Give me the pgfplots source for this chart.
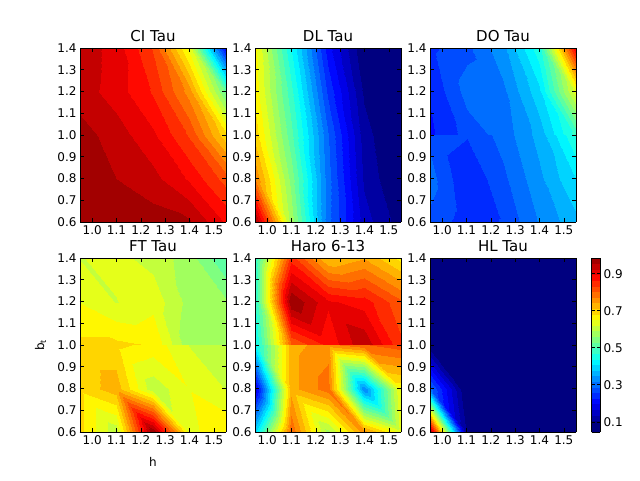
\documentclass[border=0pt]{standalone}
\usepackage{pgfplots}
\pgfplotsset{compat=1.18}
\usepackage{fontspec}
\setmainfont{DejaVu Sans}
\begin{document}
\begin{tikzpicture}
\pgfplotsset{
  panel/.style={
    view={0}{90},
    scale only axis, width=146pt, height=174pt,
    anchor=south west,
    xmin=0.95, xmax=1.55, ymin=0.6, ymax=1.4,
    xtick={1.0,1.1,1.2,1.3,1.4,1.5},
    xticklabels={1.0,1.1,1.2,1.3,1.4,1.5},
    ytick={0.6,0.7,0.8,0.9,1.0,1.1,1.2,1.3,1.4},
    yticklabels={0.6,0.7,0.8,0.9,1.0,1.1,1.2,1.3,1.4},
    ztick=\empty,
    tick align=inside,
    major tick length=4pt,
    every tick/.style={black, line width=0.6pt},
    axis line style={line width=0.8pt},
    ticklabel style={font=\fontsize{12}{12}\selectfont},
    title style={font=\fontsize{15}{15}\selectfont, yshift=-3pt},
    every axis x label/.style={at={(axis description cs:0.5,-0.17)}, anchor=center, font=\fontsize{12}{12}\selectfont},
    every axis y label/.style={at={(axis description cs:-0.27,0.5)}, rotate=90, anchor=center, font=\fontsize{12}{12}\selectfont},
    colormap/jet,
    point meta min=0.045, point meta max=0.985,
    axis on top=true,
  },
  cf/.style={contour filled={number=31}, mesh/rows=3, mesh/cols=5},
}
\fill[white] (0,0) rectangle (640pt,480pt);
\path[use as bounding box] (0,0) rectangle (640pt,480pt);

% CI Tau
\begin{axis}[panel, at={(80pt,258pt)}, title={CI Tau}]
\addplot3[cf] coordinates {
(0.95,0.6,1.00) (1.10,0.6,0.977) (1.25,0.6,0.97) (1.40,0.6,0.96) (1.55,0.6,0.89)
(0.95,0.8,0.972) (1.10,0.8,0.955) (1.25,0.8,0.935) (1.40,0.8,0.89) (1.55,0.8,0.82)
(0.95,1.0,0.968) (1.10,1.0,0.94) (1.25,1.0,0.90) (1.40,1.0,0.83) (1.55,1.0,0.69)
};
\addplot3[cf] coordinates {
(0.95,1.0,0.968) (1.10,1.0,0.94) (1.25,1.0,0.90) (1.40,1.0,0.83) (1.55,1.0,0.69)
(0.95,1.2,0.94) (1.10,1.2,0.91) (1.25,1.2,0.86) (1.40,1.2,0.76) (1.55,1.2,0.52)
(0.95,1.4,0.945) (1.10,1.4,0.91) (1.25,1.4,0.83) (1.40,1.4,0.64) (1.55,1.4,0.20)
};
\end{axis}

% DL Tau
\begin{axis}[panel, at={(255pt,258pt)}, title={DL Tau}]
\addplot3[cf] coordinates {
(0.95,0.6,0.97) (1.10,0.6,0.58) (1.25,0.6,0.30) (1.40,0.6,0.15) (1.55,0.6,0.09)
(0.95,0.8,0.77) (1.10,0.8,0.55) (1.25,0.8,0.30) (1.40,0.8,0.13) (1.55,0.8,0.07)
(0.95,1.0,0.70) (1.10,1.0,0.51) (1.25,1.0,0.29) (1.40,1.0,0.12) (1.55,1.0,0.06)
};
\addplot3[cf] coordinates {
(0.95,1.0,0.70) (1.10,1.0,0.51) (1.25,1.0,0.29) (1.40,1.0,0.12) (1.55,1.0,0.06)
(0.95,1.2,0.67) (1.10,1.2,0.48) (1.25,1.2,0.25) (1.40,1.2,0.10) (1.55,1.2,0.055)
(0.95,1.4,0.66) (1.10,1.4,0.44) (1.25,1.4,0.21) (1.40,1.4,0.075) (1.55,1.4,0.05)
};
\end{axis}

% DO Tau
\begin{axis}[panel, at={(430pt,258pt)}, title={DO Tau}]
\addplot3[cf] coordinates {
(0.95,0.6,0.28) (1.10,0.6,0.24) (1.25,0.6,0.26) (1.40,0.6,0.32) (1.55,0.6,0.37)
(0.95,0.8,0.30) (1.10,0.8,0.23) (1.25,0.8,0.28) (1.40,0.8,0.34) (1.55,0.8,0.41)
(0.95,1.0,0.28) (1.10,1.0,0.26) (1.25,1.0,0.30) (1.40,1.0,0.36) (1.55,1.0,0.47)
};
\addplot3[cf] coordinates {
(0.95,1.0,0.22) (1.10,1.0,0.27) (1.25,1.0,0.30) (1.40,1.0,0.36) (1.55,1.0,0.48)
(0.95,1.2,0.23) (1.10,1.2,0.30) (1.25,1.2,0.31) (1.40,1.2,0.40) (1.55,1.2,0.64)
(0.95,1.4,0.25) (1.10,1.4,0.28) (1.25,1.4,0.34) (1.40,1.4,0.46) (1.55,1.4,0.90)
};
\end{axis}

% FT Tau
\begin{axis}[panel, at={(80pt,48pt)}, title={FT Tau}, xlabel={h}, ylabel={b\textsubscript{t}}]
\addplot3[cf] coordinates {
(0.95,0.6,0.69) (1.10,0.6,0.60) (1.25,0.6,0.99) (1.40,0.6,0.64) (1.55,0.6,0.68)
(0.95,0.8,0.69) (1.10,0.8,0.73) (1.25,0.8,0.60) (1.40,0.8,0.65) (1.55,0.8,0.62)
(0.95,1.0,0.69) (1.10,1.0,0.69) (1.25,1.0,0.67) (1.40,1.0,0.62) (1.55,1.0,0.59)
};
\addplot3[cf] coordinates {
(0.95,1.0,0.69) (1.10,1.0,0.69) (1.25,1.0,0.68) (1.40,1.0,0.57) (1.55,1.0,0.57)
(0.95,1.2,0.65) (1.10,1.2,0.62) (1.25,1.2,0.64) (1.40,1.2,0.58) (1.55,1.2,0.565)
(0.95,1.4,0.62) (1.10,1.4,0.63) (1.25,1.4,0.61) (1.40,1.4,0.575) (1.55,1.4,0.50)
};
\end{axis}

% Haro 6-13
\begin{axis}[panel, at={(255pt,48pt)}, title={Haro 6-13}]
\addplot3[cf] coordinates {
(0.95,0.6,0.40) (1.10,0.6,0.80) (1.25,0.6,0.58) (1.40,0.6,0.76) (1.55,0.6,0.64)
(0.95,0.8,0.17) (1.10,0.8,0.73) (1.25,0.8,0.79) (1.40,0.8,0.32) (1.55,0.8,0.66)
(0.95,1.0,0.43) (1.10,1.0,0.73) (1.25,1.0,0.76) (1.40,1.0,0.80) (1.55,1.0,0.82)
};
\addplot3[cf] coordinates {
(0.95,1.0,0.43) (1.10,1.0,0.80) (1.25,1.0,0.87) (1.40,1.0,0.95) (1.55,1.0,0.84)
(0.95,1.2,0.47) (1.10,1.2,1.00) (1.25,1.2,0.90) (1.40,1.2,0.88) (1.55,1.2,0.81)
(0.95,1.4,0.47) (1.10,1.4,0.85) (1.25,1.4,0.71) (1.40,1.4,0.74) (1.55,1.4,0.67)
};
\end{axis}

% HL Tau
\begin{axis}[panel, at={(430pt,48pt)}, title={HL Tau},
  colorbar,
  colorbar style={
    at={(parent axis.north east)}, anchor=north west, xshift=7pt,
    width=8.5pt, height=174pt,
    ytick={0.1,0.3,0.5,0.7,0.9},
    yticklabels={0.1,0.3,0.5,0.7,0.9},
    tick align=inside, major tick length=3pt,
    ticklabel style={font=\fontsize{12}{12}\selectfont},
  }]
\addplot3[cf] coordinates {
(0.95,0.6,0.97) (1.10,0.6,0.10) (1.25,0.6,0.045) (1.40,0.6,0.045) (1.55,0.6,0.045)
(0.95,0.8,0.30) (1.10,0.8,0.065) (1.25,0.8,0.045) (1.40,0.8,0.045) (1.55,0.8,0.045)
(0.95,1.0,0.08) (1.10,1.0,0.045) (1.25,1.0,0.045) (1.40,1.0,0.045) (1.55,1.0,0.045)
};
\addplot3[cf] coordinates {
(0.95,1.0,0.045) (1.10,1.0,0.045) (1.25,1.0,0.045) (1.40,1.0,0.045) (1.55,1.0,0.045)
(0.95,1.2,0.045) (1.10,1.2,0.045) (1.25,1.2,0.045) (1.40,1.2,0.045) (1.55,1.2,0.045)
(0.95,1.4,0.045) (1.10,1.4,0.045) (1.25,1.4,0.045) (1.40,1.4,0.045) (1.55,1.4,0.045)
};
\end{axis}
\end{tikzpicture}
\end{document}
